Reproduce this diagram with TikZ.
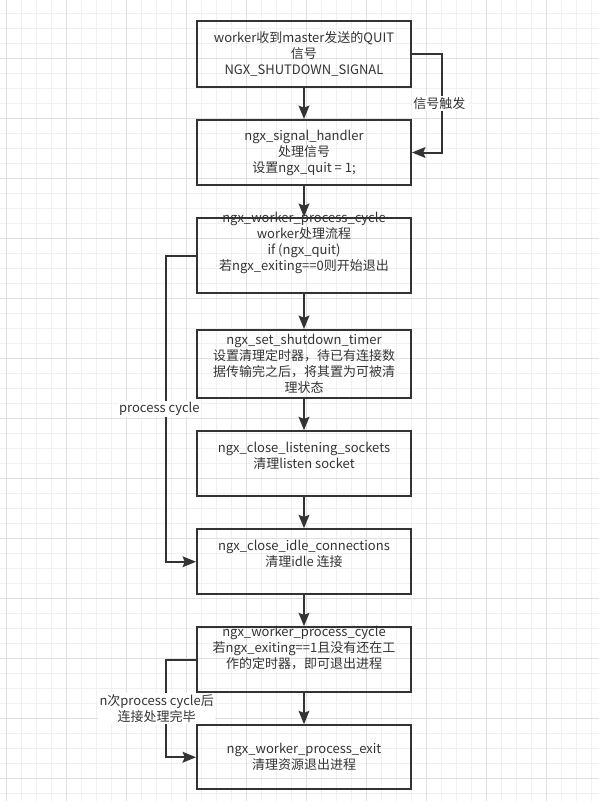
\documentclass[tikz,border=0pt]{standalone}
\usepackage{fontspec}
\setmainfont{Noto Sans CJK SC}
\usetikzlibrary{arrows.meta, positioning}
\definecolor{ink}{HTML}{333333}
\definecolor{gridminor}{HTML}{F0F0F0}
\definecolor{gridmajor}{HTML}{E0E0E0}

\begin{document}
\begin{tikzpicture}[
    >={Stealth[length=10pt, width=8pt, inset=1.5pt]},
    box/.style={draw=ink, line width=1.5pt, minimum width=160.5pt,
                minimum height=48.75pt, align=center, text=ink,
                font=\fontsize{9.75pt}{12pt}\selectfont},
    lifted/.style={text depth=0pt, text height=#1, inner ysep=0pt},
    lbl/.style={fill=white, inner sep=1pt, align=center, text=ink,
                font=\fontsize{9.75pt}{12pt}\selectfont},
    link/.style={draw=ink, line width=1.5pt, ->},
    node distance=23.25pt
  ]
  \useasboundingbox (0,0) rectangle (449.25pt,-600.75pt);
  % background grid
  \begin{scope}[shift={(5pt,-10pt)}]
    \draw[gridminor, line width=0.75pt, step=11.25pt]
      (-5pt,10pt) grid (444.25pt,-590.75pt);
  \end{scope}
  \begin{scope}[shift={(5pt,-43.75pt)}]
    \draw[gridmajor, line width=0.75pt, step=45pt]
      (-5pt,43.75pt) grid (444.25pt,-557pt);
  \end{scope}

  \node[box, minimum height=49.5pt] (recv) at (228pt,-40.5pt)
    {worker收到master发送的QUIT\\信号\\NGX\_SHUTDOWN\_SIGNAL};
  \node[box, below=of recv] (handler)
    {ngx\_signal\_handler\\处理信号\\设置ngx\_quit = 1;};
  \node[box, minimum height=56.25pt, lifted=23pt, below=of handler] (cycle)
    {ngx\_worker\_process\_cycle\\worker处理流程\\if (ngx\_quit)\\若ngx\_exiting==0则开始退出};
  \node[box, minimum height=50.25pt, below=26.25pt of cycle] (timer)
    {ngx\_set\_shutdown\_timer\\设置清理定时器，待已有连接数\\据传输完之后，将其置为可被清\\理状态};
  \node[box, lifted=6.5pt, below=of timer] (listen)
    {ngx\_close\_listening\_sockets\\清理listen socket};
  \node[box, lifted=6.5pt, below=of listen] (idle)
    {ngx\_close\_idle\_connections\\清理idle 连接};
  \node[box, lifted=12.5pt, below=of idle] (cycleend)
    {ngx\_worker\_process\_cycle\\若ngx\_exiting==1且没有还在工\\作的定时器，即可退出进程};
  \node[box, minimum height=48pt, below=of cycleend] (exit)
    {ngx\_worker\_process\_exit\\清理资源退出进程};

  \draw[link] (recv) -- (handler);
  \draw[link] (handler) -- (cycle);
  \draw[link] (cycle) -- (timer);
  \draw[link] (timer) -- (listen);
  \draw[link] (listen) -- (idle);
  \draw[link] (idle) -- (cycleend);
  \draw[link] (cycleend) -- (exit);

  % loops
  \coordinate (sigturn) at ([xshift=22.5pt]recv.east);
  \coordinate (loopa) at ([xshift=-22.5pt]cycle.west);
  \coordinate (loopb) at ([xshift=-22.5pt]cycleend.west);
  \draw[link] (recv.east) -- (sigturn)
    |- node[lbl, pos=0.25, xshift=-2pt] {信号触发} (handler.east);
  \draw[link] (cycle.west) -- (loopa)
    |- node[lbl, pos=0.25, xshift=-5pt] {process cycle} (idle.west);
  \draw[link] (cycleend.west) -- (loopb)
    |- node[lbl, pos=0.25, xshift=-7pt] {n次process cycle后\\连接处理完毕} (exit.west);
\end{tikzpicture}
\end{document}
